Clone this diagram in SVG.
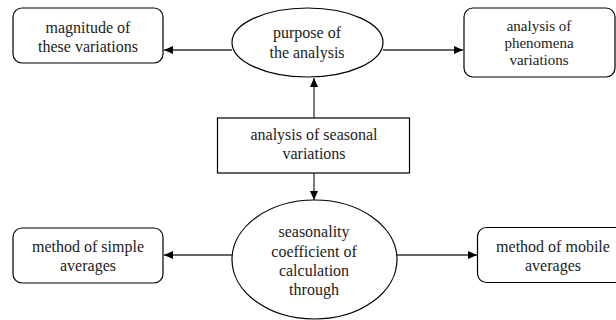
<svg xmlns="http://www.w3.org/2000/svg" width="616" height="320" viewBox="0 0 616 320">
<defs>
<marker id="arr" markerWidth="10" markerHeight="8" refX="9" refY="4" orient="auto" markerUnits="userSpaceOnUse">
<path d="M0,0 L9,4 L0,8 Z" fill="#000"/>
</marker>
</defs>
<rect width="616" height="320" fill="#fff"/>
<g id="connectors" stroke="#333" stroke-width="1.3" fill="none" marker-end="url(#arr)">
<line x1="232" y1="50" x2="164" y2="50"/>
<line x1="383" y1="50" x2="463" y2="50"/>
<line x1="314" y1="118" x2="314" y2="78"/>
<line x1="314" y1="173" x2="314" y2="200"/>
<line x1="232" y1="255" x2="164" y2="255"/>
<line x1="397" y1="255" x2="477" y2="255"/>
</g>
<g fill="#fff" stroke="#000" stroke-width="1.2">
<rect id="magnitude-box" x="13" y="8" width="150" height="55" rx="9"/>
<ellipse id="purpose-shape" cx="307.5" cy="42.5" rx="75.5" ry="34.5"/>
<rect id="phenomena-box" x="464" y="8" width="151" height="69" rx="9"/>
<rect id="seasonal-box" x="217.5" y="118" width="192" height="55"/>
<ellipse id="coefficient-shape" cx="314.5" cy="259.5" rx="82.5" ry="59.5"/>
<rect id="simple-box" x="13" y="228" width="150" height="55" rx="9"/>
<rect id="mobile-box" x="477.5" y="227.5" width="150" height="55" rx="9"/>
</g>
<g id="magnitude">
<text style="font-family:'Liberation Serif',serif;font-size:16px;text-anchor:middle;fill:#222" x="88" y="33">magnitude of</text>
<text style="font-family:'Liberation Serif',serif;font-size:16px;text-anchor:middle;fill:#222" x="88" y="52">these variations</text>
</g>
<g id="purpose">
<text style="font-family:'Liberation Serif',serif;font-size:16px;text-anchor:middle;fill:#222" x="307" y="38">purpose of</text>
<text style="font-family:'Liberation Serif',serif;font-size:16px;text-anchor:middle;fill:#222" x="307" y="58">the analysis</text>
</g>
<g id="phenomena">
<text style="font-family:'Liberation Serif',serif;font-size:15px;text-anchor:middle;fill:#222" x="539" y="31">analysis of</text>
<text style="font-family:'Liberation Serif',serif;font-size:15px;text-anchor:middle;fill:#222" x="539" y="48">phenomena</text>
<text style="font-family:'Liberation Serif',serif;font-size:15px;text-anchor:middle;fill:#222" x="539" y="65">variations</text>
</g>
<g id="seasonal">
<text style="font-family:'Liberation Serif',serif;font-size:16px;text-anchor:middle;fill:#222" x="314" y="140">analysis of seasonal</text>
<text style="font-family:'Liberation Serif',serif;font-size:16px;text-anchor:middle;fill:#222" x="314" y="159">variations</text>
</g>
<g id="coefficient">
<text style="font-family:'Liberation Serif',serif;font-size:16px;text-anchor:middle;fill:#222" x="314" y="237">seasonality</text>
<text style="font-family:'Liberation Serif',serif;font-size:16px;text-anchor:middle;fill:#222" x="314" y="256.5">coefficient of</text>
<text style="font-family:'Liberation Serif',serif;font-size:16px;text-anchor:middle;fill:#222" x="314" y="276">calculation</text>
<text style="font-family:'Liberation Serif',serif;font-size:16px;text-anchor:middle;fill:#222" x="314" y="295">through</text>
</g>
<g id="simple">
<text style="font-family:'Liberation Serif',serif;font-size:16px;text-anchor:middle;fill:#222" x="88" y="252">method of simple</text>
<text style="font-family:'Liberation Serif',serif;font-size:16px;text-anchor:middle;fill:#222" x="88" y="271">averages</text>
</g>
<g id="mobile">
<text style="font-family:'Liberation Serif',serif;font-size:16px;text-anchor:middle;fill:#222" x="553" y="252">method of mobile</text>
<text style="font-family:'Liberation Serif',serif;font-size:16px;text-anchor:middle;fill:#222" x="553" y="271">averages</text>
</g>
</svg>
